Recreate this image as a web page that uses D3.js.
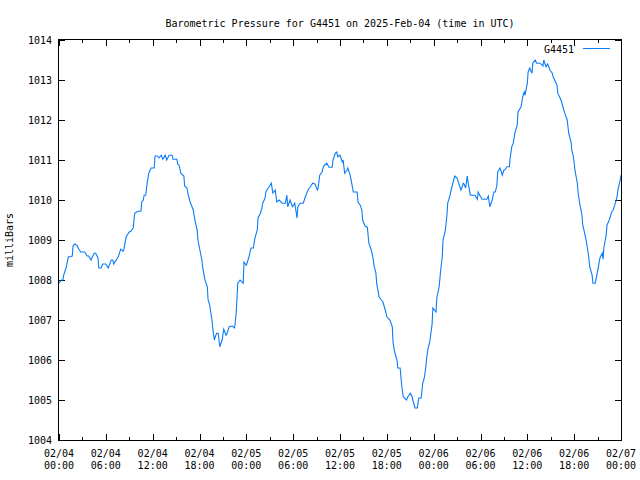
<!DOCTYPE html>
<html>
<head>
<meta charset="utf-8">
<script src="https://cdn.jsdelivr.net/npm/d3@7"></script>
<style>
  html, body { margin: 0; padding: 0; background: #fff; }
  svg { display: block; }
  text { font-family: "DejaVu Sans Mono", "Liberation Mono", monospace; font-size: 10px; fill: #000; }
</style>
</head>
<body>
<svg id="chart" width="640" height="480"></svg>
<script>
// ---- Data ----
const titleText = "Barometric Pressure for G4451 on 2025-Feb-04 (time in UTC)";
const seriesName = "G4451";
const yLabel = "milliBars";

// hours after 2025-02-04 00:00 UTC
const hours = [
  0.0, 0.3, 0.5, 0.6, 0.9, 1.2, 1.4, 1.7, 1.8, 2.0, 2.3, 2.6, 2.8, 3.3, 3.6, 3.8, 4.1, 4.5, 4.7, 5.0,
  5.1, 5.4, 5.6, 6.0, 6.3, 6.7, 6.9, 7.0, 7.6, 7.9, 8.2, 8.3, 8.6, 9.0, 9.2, 9.5, 9.7, 10.1, 10.5, 10.6,
  10.8, 10.9, 11.1, 11.3, 11.5, 11.8, 12.2, 12.3, 12.6, 12.8, 13.1, 13.3, 13.6, 13.8, 14.1, 14.5, 14.6, 15.1, 15.2, 15.4,
  15.6, 16.0, 16.1, 16.4, 16.5, 16.8, 17.0, 17.2, 17.4, 17.7, 17.8, 18.1, 18.3, 18.4, 18.7, 19.0, 19.1, 19.3, 19.6, 19.7,
  19.9, 20.0, 20.2, 20.4, 20.6, 20.9, 21.1, 21.4, 21.5, 21.8, 22.2, 22.5, 22.7, 22.9, 23.2, 23.6, 23.7, 24.0, 24.3, 24.6,
  24.9, 25.1, 25.4, 25.5, 25.8, 26.0, 26.1, 26.4, 26.5, 26.8, 27.0, 27.2, 27.4, 27.7, 27.9, 28.2, 28.6, 29.0, 29.2, 29.3,
  29.6, 29.9, 30.0, 30.2, 30.5, 30.6, 30.9, 31.3, 31.5, 31.9, 32.2, 32.5, 32.8, 33.1, 33.2, 33.4, 33.7, 33.9, 34.3, 34.6,
  35.0, 35.1, 35.4, 35.6, 35.7, 36.0, 36.3, 36.4, 36.6, 36.9, 37.0, 37.3, 37.5, 37.7, 38.2, 38.3, 38.6, 38.8, 38.9, 39.2,
  39.5, 39.7, 40.0, 40.2, 40.4, 40.6, 40.7, 41.0, 41.3, 41.5, 41.8, 42.0, 42.4, 42.7, 42.8, 43.0, 43.3, 43.4, 43.7, 43.9,
  44.1, 44.5, 44.7, 45.0, 45.2, 45.4, 45.6, 45.9, 46.1, 46.4, 46.6, 46.8, 47.0, 47.1, 47.3, 47.5, 47.8, 47.9, 48.3, 48.4,
  48.7, 48.9, 49.1, 49.2, 49.5, 49.7, 49.8, 50.1, 50.3, 50.5, 50.7, 51.0, 51.2, 51.5, 51.8, 51.9, 52.1, 52.3, 52.4, 52.7,
  53.3, 53.6, 53.7, 53.9, 54.2, 54.8, 55.0, 55.2, 55.5, 55.7, 55.9, 56.1, 56.2, 56.5, 56.8, 57.0, 57.1, 57.4, 57.7, 57.8,
  58.0, 58.2, 58.4, 58.7, 58.8, 59.2, 59.4, 59.6, 59.7, 60.0, 60.1, 60.3, 60.6, 60.7, 61.0, 61.2, 61.6, 61.9, 62.0, 62.1,
  62.4, 62.6, 62.9, 63.2, 63.3, 63.5, 63.8, 63.9, 64.2, 64.4, 64.6, 64.8, 65.1, 65.2, 65.3, 65.6, 65.7, 65.9, 66.0, 66.1,
  66.4, 66.5, 66.7, 67.0, 67.1, 67.4, 67.6, 67.8, 68.0, 68.3, 68.4, 68.7, 68.9, 69.1, 69.3, 69.6, 69.7, 69.8, 70.1, 70.2,
  70.5, 70.8, 71.0, 71.2, 71.5, 71.6, 71.9, 72.0
];

const pressure = [
  1007.92, 1008.0, 1008.0, 1008.12, 1008.3, 1008.58, 1008.58, 1008.6, 1008.85, 1008.9, 1008.87, 1008.75, 1008.7, 1008.7, 1008.6, 1008.6, 1008.5, 1008.67, 1008.67, 1008.55,
  1008.3, 1008.3, 1008.4, 1008.4, 1008.3, 1008.5, 1008.5, 1008.4, 1008.58, 1008.77, 1008.72, 1008.75, 1009.08, 1009.2, 1009.22, 1009.3, 1009.67, 1009.72, 1009.72, 1009.95,
  1010.0, 1010.12, 1010.12, 1010.42, 1010.67, 1010.8, 1010.8, 1011.1, 1011.1, 1011.05, 1011.12, 1011.02, 1011.12, 1011.0, 1011.12, 1011.12, 1011.02, 1011.02, 1010.9, 1010.87,
  1010.67, 1010.6, 1010.35, 1010.3, 1010.18, 1009.95, 1009.85, 1009.75, 1009.5, 1009.25, 1009.0, 1008.7, 1008.5, 1008.33, 1008.0, 1007.83, 1007.5, 1007.37, 1007.0, 1006.8,
  1006.5, 1006.57, 1006.67, 1006.67, 1006.33, 1006.5, 1006.77, 1006.62, 1006.65, 1006.83, 1006.85, 1006.8, 1007.17, 1007.92, 1008.0, 1007.92, 1008.45, 1008.37, 1008.55, 1008.8,
  1008.8, 1009.05, 1009.25, 1009.55, 1009.67, 1009.8, 1009.92, 1010.05, 1010.2, 1010.3, 1010.35, 1010.42, 1010.17, 1010.25, 1009.95, 1010.0, 1009.92, 1009.92, 1010.12, 1009.83,
  1010.0, 1009.83, 1009.85, 1009.92, 1009.55, 1009.83, 1009.92, 1009.92, 1010.05, 1010.25, 1010.33, 1010.42, 1010.4, 1010.25, 1010.3, 1010.62, 1010.7, 1010.85, 1010.92, 1010.82,
  1010.82, 1011.0, 1011.17, 1011.2, 1011.08, 1011.12, 1010.95, 1011.0, 1010.67, 1010.75, 1010.8, 1010.62, 1010.42, 1010.2, 1010.2, 1009.95, 1009.87, 1009.75, 1009.5, 1009.35,
  1009.32, 1008.92, 1008.75, 1008.58, 1008.33, 1008.17, 1007.92, 1007.58, 1007.5, 1007.45, 1007.25, 1007.08, 1007.0, 1006.83, 1006.42, 1006.2, 1006.0, 1005.8, 1005.8, 1005.37,
  1005.08, 1005.0, 1005.08, 1005.17, 1005.1, 1004.95, 1004.8, 1004.8, 1005.05, 1005.05, 1005.42, 1005.55, 1005.83, 1006.05, 1006.3, 1006.45, 1006.9, 1007.3, 1007.2, 1007.55,
  1007.83, 1008.25, 1008.58, 1009.0, 1009.25, 1009.62, 1009.92, 1010.12, 1010.3, 1010.45, 1010.6, 1010.55, 1010.42, 1010.25, 1010.42, 1010.4, 1010.3, 1010.6, 1010.45, 1010.12,
  1010.12, 1010.02, 1010.2, 1010.12, 1010.02, 1010.02, 1010.1, 1009.83, 1010.0, 1010.2, 1010.2, 1010.37, 1010.7, 1010.8, 1010.62, 1010.75, 1010.75, 1010.83, 1010.83, 1011.05,
  1011.33, 1011.42, 1011.67, 1011.87, 1012.2, 1012.33, 1012.58, 1012.7, 1012.62, 1012.92, 1013.2, 1013.3, 1013.17, 1013.42, 1013.5, 1013.42, 1013.42, 1013.37, 1013.35, 1013.5,
  1013.33, 1013.4, 1013.25, 1013.17, 1013.08, 1013.0, 1012.87, 1012.67, 1012.55, 1012.45, 1012.3, 1012.17, 1012.0, 1011.85, 1011.67, 1011.45, 1011.25, 1011.08, 1010.92, 1010.75,
  1010.42, 1010.2, 1009.92, 1009.62, 1009.37, 1009.12, 1008.92, 1008.67, 1008.33, 1008.12, 1007.92, 1007.92, 1008.12, 1008.33, 1008.55, 1008.67, 1008.52, 1008.8, 1009.12, 1009.37,
  1009.5, 1009.7, 1009.75, 1009.87, 1010.08, 1010.25, 1010.5, 1010.62
];

// axis ticks
const yTicks = [1004, 1005, 1006, 1007, 1008, 1009, 1010, 1011, 1012, 1013, 1014];
const xMajorHours = [0, 6, 12, 18, 24, 30, 36, 42, 48, 54, 60, 66, 72];
const xMinorHours = [3, 9, 15, 21, 27, 33, 39, 45, 51, 57, 63, 69];
const xTickDates = ["02/04", "02/04", "02/04", "02/04", "02/05", "02/05", "02/05", "02/05", "02/06", "02/06", "02/06", "02/06", "02/07"];
const xTickTimes = ["00:00", "06:00", "12:00", "18:00", "00:00", "06:00", "12:00", "18:00", "00:00", "06:00", "12:00", "18:00", "00:00"];

// ---- Drawing ----
const start = Date.UTC(2025, 1, 4);
const toDate = h => new Date(start + h * 3600000);
const data = hours.map((h, i) => ({ t: toDate(h), v: pressure[i] }));

const L = 59, R = 621, T = 40, B = 440;
const svg = d3.select("#chart");

const x = d3.scaleUtc().domain([toDate(0), toDate(72)]).range([L, R]);
const y = d3.scaleLinear().domain([1004, 1014]).range([B, T]);

const lineColor = "#0a7cf5";

// Title
svg.append("text")
  .attr("x", 340).attr("y", 27)
  .attr("text-anchor", "middle")
  .text(titleText);

// Y axis label
svg.append("text")
  .attr("transform", "translate(13,240) rotate(-90)")
  .attr("text-anchor", "middle")
  .text(yLabel);

// Ticks (inward) using d3 axes
const xMajor = xMajorHours.map(toDate);
const xMinor = xMinorHours.map(toDate);

function styleAxis(g) {
  g.select(".domain").remove();
  g.selectAll(".tick line").attr("stroke", "#000").attr("shape-rendering", "crispEdges");
  g.selectAll(".tick text").remove();
}

svg.append("g").attr("transform", `translate(0,${B})`)
  .call(d3.axisBottom(x).tickValues(xMajor).tickSize(-6).tickFormat(""))
  .call(styleAxis);
svg.append("g").attr("transform", `translate(0,${B})`)
  .call(d3.axisBottom(x).tickValues(xMinor).tickSize(-3).tickFormat(""))
  .call(styleAxis);
svg.append("g").attr("transform", `translate(0,${T})`)
  .call(d3.axisTop(x).tickValues(xMajor).tickSize(-6).tickFormat(""))
  .call(styleAxis);
svg.append("g").attr("transform", `translate(0,${T})`)
  .call(d3.axisTop(x).tickValues(xMinor).tickSize(-3).tickFormat(""))
  .call(styleAxis);
svg.append("g").attr("transform", `translate(${L},0)`)
  .call(d3.axisLeft(y).tickValues(yTicks).tickSize(-6).tickFormat(""))
  .call(styleAxis);
svg.append("g").attr("transform", `translate(${R},0)`)
  .call(d3.axisRight(y).tickValues(yTicks).tickSize(-6).tickFormat(""))
  .call(styleAxis);

// Y tick labels
svg.append("g").selectAll("text")
  .data(yTicks)
  .join("text")
  .attr("x", L - 7)
  .attr("y", d => y(d) + 4)
  .attr("text-anchor", "end")
  .text(d => d);

// X tick labels (two lines)
const xl = svg.append("g").selectAll("text")
  .data(xMajor)
  .join("text")
  .attr("text-anchor", "middle");
xl.append("tspan")
  .attr("x", d => x(d)).attr("y", 457)
  .text((d, i) => xTickDates[i]);
xl.append("tspan")
  .attr("x", d => x(d)).attr("y", 469)
  .text((d, i) => xTickTimes[i]);

// Data line
svg.append("path")
  .datum(data)
  .attr("fill", "none")
  .attr("stroke", lineColor)
  .attr("stroke-width", 1.1)
  .attr("d", d3.line().x(d => x(d.t)).y(d => y(d.v)));

// Frame
svg.append("rect")
  .attr("x", L - 0.5).attr("y", T - 0.5)
  .attr("width", R - L + 1).attr("height", B - T + 1)
  .attr("fill", "none")
  .attr("stroke", "#000")
  .attr("shape-rendering", "crispEdges");

// Legend
svg.append("text")
  .attr("x", 574).attr("y", 53)
  .attr("text-anchor", "end")
  .text(seriesName);
svg.append("line")
  .attr("x1", 583).attr("x2", 610)
  .attr("y1", 48.5).attr("y2", 48.5)
  .attr("stroke", lineColor)
  .attr("stroke-width", 1);
</script>
</body>
</html>
